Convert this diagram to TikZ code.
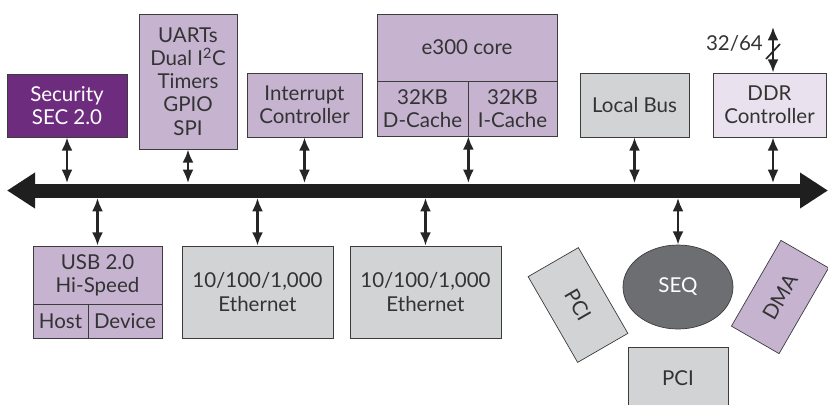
\documentclass[tikz,border=0pt]{standalone}
\usepackage{fontspec}
\setmainfont{Lato}
\usepackage{tikz}
\usetikzlibrary{arrows.meta, calc, shapes.geometric}
\definecolor{lavande}{RGB}{197,179,208}
\definecolor{violet}{RGB}{110,44,127}
\definecolor{gris}{RGB}{209,211,212}
\definecolor{pale}{RGB}{233,225,238}
\definecolor{ardoise}{RGB}{109,110,113}
\definecolor{trait}{RGB}{60,60,60}

\begin{document}
\begin{tikzpicture}[x=0.3mm, y=0.3mm,
		bloc/.style={draw=trait, line width=0.6pt, inner sep=1pt, align=center,
			font=\fontsize{17.5}{19.8}\selectfont, text=black!80},
		lien/.style={{Latex[length=4mm,width=3.3mm]}-{Latex[length=4mm,width=3.3mm]},
			line width=0.7mm, black!85}]
				\useasboundingbox (0,0) rectangle (828,-404);
				% bus
				\coordinate (busL) at (7,-190.5);
				\coordinate (busR) at (828,-190.5);
				\coordinate (bushaut) at (0,-183);
				\coordinate (busbas) at (0,-198);
				\draw[line width=4.2mm, black!88,
				{Triangle[length=8.4mm,width=10.2mm]}-{Triangle[length=8.4mm,width=10.2mm]}]
				(busL) -- (busR);
				% blocs du haut
				\node[bloc, fill=violet, text=white, minimum width=36mm, minimum height=18.9mm]
				(sec) at (67,-105.5) {Security\\SEC 2.0};
				\node[bloc, fill=lavande, minimum width=29.4mm, minimum height=40.5mm]
				(uart) at (188,-81.5) {UARTs\\Dual I\textsuperscript{2}C\\Timers\\GPIO\\SPI};
				\node[bloc, fill=lavande, minimum width=34.5mm, minimum height=19.2mm]
				(intc) at (304.5,-105) {Interrupt\\Controller};
				\node[bloc, fill=lavande, minimum width=54mm, minimum height=20.1mm]
				(core) at (467,-47.5) {e300 core};
				\node[bloc, fill=lavande, minimum width=27.3mm, minimum height=16.5mm]
				(dcache) at (422.5,-108.5) {32KB\\D-Cache};
				\node[bloc, fill=lavande, minimum width=26.7mm, minimum height=16.5mm]
				(icache) at (512.5,-108.5) {32KB\\I-Cache};
				\node[bloc, fill=gris, minimum width=32.7mm, minimum height=19.2mm]
				(lbus) at (634.5,-105) {Local Bus};
				\node[bloc, fill=pale, minimum width=33.9mm, minimum height=19.2mm]
				(ddr) at (769.5,-105) {DDR\\Controller};
				% blocs du bas
				\node[bloc, fill=lavande, minimum width=38.7mm, minimum height=17.4mm]
				(usb) at (97.5,-275) {USB 2.0\\Hi-Speed};
				\node[bloc, fill=lavande, minimum width=16.5mm, minimum height=10.2mm]
				(usbhost) at (60.5,-321) {Host};
				\node[bloc, fill=lavande, minimum width=22.2mm, minimum height=10.2mm]
				(usbdev) at (125,-321) {Device};
				\node[bloc, fill=gris, minimum width=45.3mm, minimum height=27.6mm]
				(eth1) at (257.5,-292) {10/100/1,000\\Ethernet};
				\node[bloc, fill=gris, minimum width=45.3mm, minimum height=27.6mm]
				(eth2) at (425.5,-292) {10/100/1,000\\Ethernet};
				\node[bloc, ellipse, fill=ardoise, text=white, minimum width=33mm, minimum height=25.2mm]
				(seq) at (678,-287) {SEQ};
				\node[bloc, fill=gris, rotate=-60, minimum width=29.7mm, minimum height=17.4mm]
				(pcia) at (578,-305) {PCI};
				\node[bloc, fill=lavande, rotate=60, minimum width=29.7mm, minimum height=16.5mm]
				(dma) at (780,-297) {DMA};
				\node[bloc, fill=gris, minimum width=30mm, minimum height=18.6mm]
				(pcib) at (678,-378) {PCI};
				% liaisons au bus
				\draw[lien] (sec) -- (sec |- bushaut);
				\draw[lien] (uart) -- (uart |- bushaut);
				\draw[lien] (intc) -- (intc |- bushaut);
				\draw[lien] (dcache.south east) -- (dcache.south east |- bushaut);
				\draw[lien] (lbus) -- (lbus |- bushaut);
				\coordinate (ddrio) at (773,-27);
				\draw[lien] (ddrio |- ddr.north) -- (ddrio);
				\draw[lien] (ddrio |- ddr.south) -- (ddrio |- bushaut);
				\draw[lien] (usb) -- (usb |- busbas);
				\draw[lien] (eth1) -- (eth1 |- busbas);
				\draw[lien] (eth2) -- (eth2 |- busbas);
				\draw[lien] (seq) -- (seq |- busbas);
				% largeur
				\draw[line width=0.5mm, black!85] (766,-59) -- (780,-44);
				\node[font=\fontsize{17.5}{19.8}\selectfont, text=black!80, left] (larg) at (767,-43) {32/64};
			\end{tikzpicture}
\end{document}
